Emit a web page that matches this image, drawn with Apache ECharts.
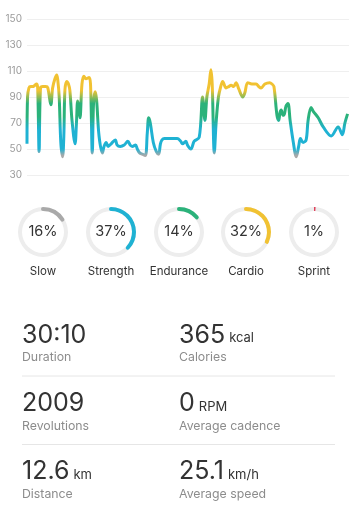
<!DOCTYPE html>
<html>
<head>
<meta charset="utf-8">
<script src="https://cdn.jsdelivr.net/npm/echarts@6/dist/echarts.min.js"></script>
<style>
html,body{margin:0;padding:0;background:#fff;}
#c{width:357px;height:512px;}
</style>
</head>
<body>
<div id="c"></div>
<script>
// ---- data ----
const timeSec = [0,3,11,21,32,44,53,60,68,76,89,106,117,134,144,157,167,173,181,190,200,207,213,223,233,241,253,270,278,285,292,298,309,320,331,349,357,367,374,383,391,405,424,433,445,456,473,496,507,524,546,567,580,592,610,620,633,648,665,676,684,693,710,727,740,750,759,772,806,844,864,874,893,902,921,940,968,987,1000,1011,1024,1034,1041,1053,1063,1076,1089,1100,1119,1134,1147,1162,1175,1191,1213,1224,1241,1264,1288,1303,1316,1337,1364,1377,1388,1405,1415,1422,1429,1439,1444,1456,1467,1479,1496,1514,1527,1537,1552,1569,1580,1597,1609,1637,1665,1710,1749,1772,1787,1802,1810];
const heartRate = [54,90,97,98,98,99,100,97,48,97,98,98,97,84,97,104,107,103,90,55,44,60,95,102,100,95,72,54,70,87,82,74,100,106,104,105,100,47,85,94,88,60,47,52,55,52,54,57,53,52,53,56,53,52,53,50,47,46,45,62,74,70,55,48,46,54,57,58,58,58,56,54,56,53,50,56,59,90,72,90,100,111,100,47,70,90,98,102,97,98,99,98,101,96,90,93,101,100,100,98,97,100,101,100,98,76,72,78,80,76,76,83,85,72,56,44,52,58,55,57,72,82,79,74,67,60,67,61,70,77];
const yTicks = [30, 150, 20]; // min, max, step
const zoneNames = ['Slow','Strength','Endurance','Cardio','Sprint'];
const zonePct = [16,37,14,32,1];
const statValues = ['30:10','365','2009','0','12.6','25.1'];
const statUnits = ['','kcal','','RPM','km','km/h'];
const statLabels = ['Duration','Calories','Revolutions','Average cadence','Distance','Average speed'];

// ---- styles ----
const zoneColors = ['#a9a9a9','#1fb2d3','#2bb27a','#f1c232','#e0405a'];
const fontFam = 'Inter, "Noto Sans", sans-serif';

const chart = echarts.init(document.getElementById('c'), null, {renderer:'canvas'});

const series = [{
  type:'line',
  data: timeSec.map((t,i)=>[t, heartRate[i]]),
  smooth:0.35,
  showSymbol:false,
  lineStyle:{width:3},
  z:5
}];

const gaugeX = [43,111,179,246,314];
zoneNames.forEach((n,i)=>{
  series.push({
    type:'gauge',
    center:[gaugeX[i],232],
    radius:25,
    startAngle:90, endAngle:-270,
    min:0,max:100,
    pointer:{show:false},
    progress:{show:true,width:4,roundCap:zonePct[i]>2,itemStyle:{color:zoneColors[i]}},
    axisLine:{lineStyle:{width:4,color:[[1,'#ededed']]}},
    axisTick:{show:false},splitLine:{show:false},axisLabel:{show:false},
    anchor:{show:false},
    title:{show:true,offsetCenter:[0,40],fontSize:11.5,color:'#333',fontFamily:fontFam},
    detail:{show:true,offsetCenter:[0,0],formatter:'{value}%',fontSize:14.5,color:'#333',fontFamily:fontFam,fontWeight:'normal'},
    data:[{value:zonePct[i],name:n}]
  });
});

// stats text
const ctx = document.createElement('canvas').getContext('2d');
const graphics = [];
const colX = [22,179];
for (let i=0;i<statValues.length;i++){
  const col = i%2, row = Math.floor(i/2);
  const x = colX[col];
  const numY = 335.5 + row*68.2;
  const labY = 357.5 + row*68.5;
  graphics.push({type:'text',x:x,y:numY,style:{text:statValues[i],fontSize:25,fontFamily:fontFam,fill:'#333',verticalAlign:'middle',align:'left'}});
  if (statUnits[i]){
    ctx.font = '25px '+fontFam;
    const w = ctx.measureText(statValues[i]).width;
    graphics.push({type:'text',x:x+w+4,y:numY+3,style:{text:statUnits[i],fontSize:13,fontFamily:fontFam,fill:'#333',verticalAlign:'middle',align:'left'}});
  }
  graphics.push({type:'text',x:x,y:labY,style:{text:statLabels[i],fontSize:12.3,fontFamily:fontFam,fill:'#8c8c8c',verticalAlign:'middle',align:'left'}});
}
[376,444.5].forEach(y=>{
  graphics.push({type:'line',shape:{x1:22,y1:y,x2:335,y2:y},style:{stroke:'#e6e6e6',lineWidth:1}});
});

chart.setOption({
  animation:false,
  backgroundColor:'#fff',
  grid:{left:27,right:8,top:19,height:156},
  xAxis:{type:'value',min:timeSec[0],max:timeSec[timeSec.length-1],show:false},
  yAxis:{type:'value',min:yTicks[0],max:yTicks[1],interval:yTicks[2],
    axisLine:{show:false},axisTick:{show:false},
    axisLabel:{color:'#9a9a9a',fontSize:10,margin:5,fontFamily:fontFam},
    splitLine:{lineStyle:{color:'#efefef',width:1}}},
  visualMap:{type:'continuous',show:false,dimension:1,seriesIndex:0,min:40,max:100,
    inRange:{color:['#a9a9a9','#a9a9a9','#1fb2d3','#1fb2d3','#1fb2d3','#1fb2d3','#24b2a8','#2bb27a','#2bb27a','#2bb27a','#8fbb55','#f1c232','#f1c232']}},
  series:series,
  graphic:graphics
});
</script>
</body>
</html>
